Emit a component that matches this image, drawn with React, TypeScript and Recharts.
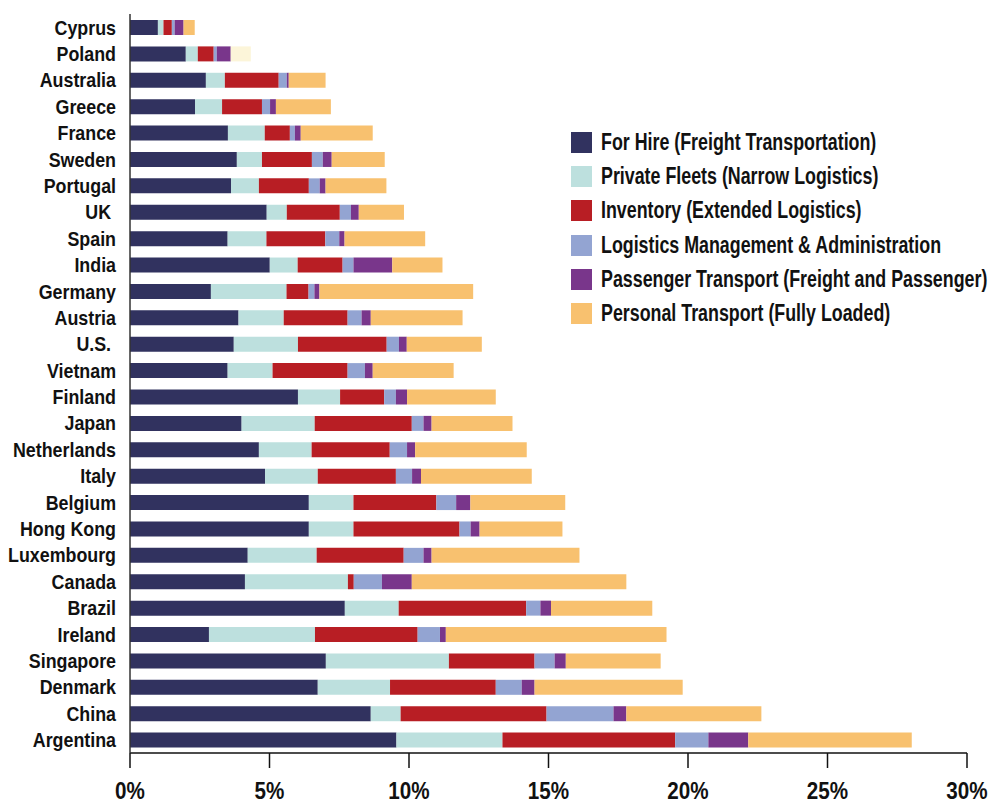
import { BarChart, Bar, XAxis, YAxis, Cell } from "recharts";

const countries = [
  "Cyprus", "Poland", "Australia", "Greece", "France", "Sweden", "Portugal",
  "UK\u00a0", "Spain", "India", "Germany", "Austria", "U.S.\u00a0", "Vietnam",
  "Finland", "Japan", "Netherlands", "Italy", "Belgium", "Hong Kong",
  "Luxembourg", "Canada", "Brazil", "Ireland", "Singapore", "Denmark",
  "China", "Argentina",
];

const forHire = [
  1.0, 2.0, 2.72, 2.33, 3.51, 3.83, 3.62, 4.9, 3.5, 5.01, 2.9, 3.89, 3.72, 3.5,
  6.02, 4.0, 4.62, 4.84, 6.41, 6.41, 4.22, 4.12, 7.7, 2.83, 7.02, 6.73, 8.63, 9.55,
];
const privateFleets = [
  0.2, 0.43, 0.68, 0.97, 1.32, 0.9, 1.0, 0.72, 1.39, 1.0, 2.71, 1.62, 2.3, 1.61,
  1.51, 2.62, 1.89, 1.89, 1.6, 1.6, 2.47, 3.69, 1.93, 3.8, 4.41, 2.59, 1.07, 3.8,
];
const inventory = [
  0.3, 0.57, 1.93, 1.43, 0.9, 1.79, 1.79, 1.9, 2.11, 1.61, 0.79, 2.29, 3.18, 2.69,
  1.58, 3.48, 2.8, 2.8, 2.97, 3.8, 3.12, 0.21, 4.57, 3.68, 3.07, 3.79, 5.23, 6.19,
];
const logisticsMgmt = [
  0.1, 0.11, 0.29, 0.29, 0.18, 0.39, 0.39, 0.4, 0.5, 0.39, 0.21, 0.5, 0.44, 0.62,
  0.42, 0.42, 0.62, 0.58, 0.71, 0.4, 0.71, 1.01, 0.51, 0.8, 0.72, 0.93, 2.4, 1.19,
];
const passenger = [
  0.32, 0.5, 0.07, 0.21, 0.21, 0.32, 0.21, 0.28, 0.19, 1.39, 0.18, 0.33, 0.28, 0.28,
  0.4, 0.29, 0.29, 0.32, 0.51, 0.32, 0.29, 1.07, 0.38, 0.21, 0.4, 0.46, 0.46, 1.43,
];
const personal = [
  0.4, 0.72, 1.32, 1.97, 2.58, 1.9, 2.18, 1.62, 2.89, 1.8, 5.51, 3.29, 2.69, 2.9,
  3.18, 2.9, 4.0, 3.97, 3.4, 2.97, 5.3, 7.69, 3.63, 7.91, 3.4, 5.31, 4.84, 5.86,
];

const xTicks = [0, 5, 10, 15, 20, 25, 30];

const series = [
  { key: "forHire", label: "For Hire (Freight Transportation)", color: "#31325f" },
  { key: "privateFleets", label: "Private Fleets (Narrow Logistics)", color: "#bde0de" },
  { key: "inventory", label: "Inventory (Extended Logistics)", color: "#b81e24" },
  { key: "logisticsMgmt", label: "Logistics Management & Administration", color: "#93a4d2" },
  { key: "passenger", label: "Passenger Transport (Freight and Passenger)", color: "#79368b" },
  { key: "personal", label: "Personal Transport (Fully Loaded)", color: "#f8c16f" },
];

// Poland's last segment is drawn in a pale cream in the original
const paleRow = "Poland";
const paleColor = "#fcf5d9";

const data = countries.map((name, i) => ({
  name,
  forHire: forHire[i],
  privateFleets: privateFleets[i],
  inventory: inventory[i],
  logisticsMgmt: logisticsMgmt[i],
  passenger: passenger[i],
  personal: personal[i],
}));

// no narrow face installed, so squeeze Liberation Sans Bold horizontally
const FONT = '"Liberation Sans", Arial, sans-serif';
const INK = "#111";

function CountryTick({ x, y, payload }: any) {
  return (
    <g transform={`translate(${x},${y})`}>
      <text
        transform="scale(0.87,1)"
        textAnchor="end"
        dy="0.36em"
        fill={INK}
        fontSize={20.5}
        fontWeight={700}
        fontFamily={FONT}
      >
        {payload.value}
      </text>
    </g>
  );
}

function PercentTick({ x, y, payload }: any) {
  return (
    <g transform={`translate(${x},${y})`}>
      <text
        transform="scale(0.86,1)"
        textAnchor="middle"
        dy="0.71em"
        fill={INK}
        fontSize={24}
        fontWeight={700}
        fontFamily={FONT}
      >
        {`${payload.value}%`}
      </text>
    </g>
  );
}

function LegendBox() {
  return (
    <div
      style={{
        position: "absolute",
        left: 571,
        top: 125,
        fontFamily: FONT,
        fontWeight: 700,
        fontSize: 23,
        color: INK,
      }}
    >
      {series.map((s) => (
        <div key={s.key} style={{ display: "flex", alignItems: "center", height: 34.3 }}>
          <span style={{ width: 21, height: 21, background: s.color, marginRight: 9, flex: "none" }} />
          <span
            style={{
              whiteSpace: "nowrap",
              display: "inline-block",
              transform: "scaleX(0.775)",
              transformOrigin: "left center",
            }}
          >
            {s.label}
          </span>
        </div>
      ))}
    </div>
  );
}

export default function App() {
  return (
    <div style={{ position: "absolute", left: 0, top: 0, width: 992, height: 804, background: "#fff" }}>
      <BarChart
        width={992}
        height={804}
        data={data}
        layout="vertical"
        margin={{ top: 14, right: 25, bottom: 1, left: 0 }}
        barSize={15}
      >
        <XAxis
          type="number"
          domain={[0, 30]}
          ticks={xTicks}
          axisLine={{ stroke: INK, strokeWidth: 1.5 }}
          tickLine={{ stroke: INK, strokeWidth: 1.5 }}
          tickSize={15}
          tickMargin={14}
          height={50}
          tick={<PercentTick />}
        />
        <YAxis
          type="category"
          dataKey="name"
          width={130}
          interval={0}
          axisLine={{ stroke: "#333", strokeWidth: 1.5 }}
          tickLine={false}
          tickSize={0}
          tickMargin={14}
          tick={<CountryTick />}
        />
        {series.map((s) => (
          <Bar
            key={s.key}
            dataKey={s.key}
            name={s.label}
            stackId="a"
            fill={s.color}
            isAnimationActive={false}
          >
            {s.key === "personal"
              ? data.map((d) => (
                  <Cell key={d.name} fill={d.name === paleRow ? paleColor : s.color} />
                ))
              : null}
          </Bar>
        ))}
      </BarChart>
      <LegendBox />
    </div>
  );
}
